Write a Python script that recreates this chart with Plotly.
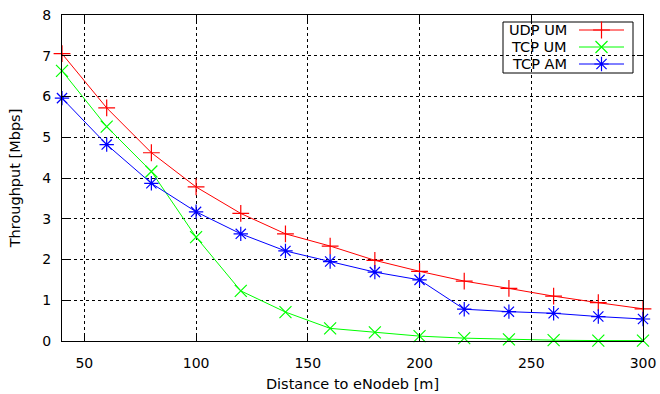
import plotly.graph_objects as go

distance = [40, 60, 80, 100, 120, 140, 160, 180, 200, 220, 240, 260, 280, 300]
udp_um = [7.05, 5.72, 4.62, 3.78, 3.13, 2.63, 2.33, 1.98, 1.71, 1.47, 1.29, 1.10, 0.94, 0.79]
tcp_um = [6.63, 5.26, 4.16, 2.55, 1.23, 0.71, 0.31, 0.21, 0.12, 0.07, 0.04, 0.02, 0.01, 0.01]
tcp_am = [5.96, 4.82, 3.87, 3.17, 2.63, 2.21, 1.95, 1.69, 1.50, 0.78, 0.72, 0.68, 0.60, 0.54]

series_names = ["UDP UM", "TCP UM", "TCP AM"]
series_colors = ["#ff0000", "#00ff00", "#0000ff"]
series_symbols = ["cross-thin-open", "x-thin-open", "asterisk-open"]
series_values = [udp_um, tcp_um, tcp_am]

x_ticks = [50, 100, 150, 200, 250, 300]
y_ticks = [0, 1, 2, 3, 4, 5, 6, 7, 8]

FONT = "DejaVu Sans"
fig = go.Figure()

for name, col, sym, vals in zip(series_names, series_colors, series_symbols, series_values):
    fig.add_trace(go.Scatter(
        x=distance, y=vals, name=name, mode="lines+markers",
        line=dict(color=col, width=1),
        marker=dict(symbol=sym, size=12, color=col, line=dict(color=col, width=1.2)),
        showlegend=False, cliponaxis=False,
    ))

# Custom gnuplot-style legend (overlay pixel-coordinate axes)
L, R, T, B = 62, 643, 15, 341
rows_y = [30, 47, 64]
for name, col, sym, ry in zip(series_names, series_colors, series_symbols, rows_y):
    fig.add_trace(go.Scatter(
        x=[579, 624], y=[ry, ry], xaxis="x2", yaxis="y2", mode="lines",
        line=dict(color=col, width=1), showlegend=False, hoverinfo="skip"))
    fig.add_trace(go.Scatter(
        x=[601.5], y=[ry], xaxis="x2", yaxis="y2", mode="markers",
        marker=dict(symbol=sym, size=12, color=col, line=dict(color=col, width=1.2)),
        showlegend=False, hoverinfo="skip"))
    fig.add_annotation(x=569, y=ry, xref="x2", yref="y2", text=name, showarrow=False,
                       xanchor="right", yanchor="middle",
                       font=dict(family=FONT, size=14.5, color="black"))

fig.add_shape(type="rect", xref="x2", yref="y2", x0=503, x1=633, y0=22, y1=73,
              line=dict(color="black", width=1), fillcolor="white", layer="below")

axis_common = dict(
    showline=True, linecolor="black", linewidth=1, mirror="allticks",
    ticks="inside", ticklen=6, tickcolor="black",
    showgrid=True, gridcolor="black", griddash="dot", gridwidth=1,
    zeroline=False, automargin=False,
    tickfont=dict(family=FONT, size=14, color="black"),
)

fig.update_layout(
    width=660, height=394,
    margin=dict(l=L, r=660 - R, t=T, b=394 - B, autoexpand=False),
    paper_bgcolor="white", plot_bgcolor="white",
    font=dict(family=FONT, color="black"),
    xaxis=dict(range=[40, 300], tickvals=x_ticks, ticklabelstandoff=9,
               title=dict(text="Distance to eNodeb [m]", font=dict(family=FONT, size=14.5), standoff=9),
               **axis_common),
    yaxis=dict(range=[0, 8], tickvals=y_ticks, ticklabelstandoff=7,
               title=dict(text="Throughput [Mbps]", font=dict(family=FONT, size=14.5), standoff=18),
               **axis_common),
    xaxis2=dict(overlaying="x", range=[L, R], visible=False, fixedrange=True),
    yaxis2=dict(overlaying="y", range=[B, T], visible=False, fixedrange=True),
)

fig.write_html("out.html")
